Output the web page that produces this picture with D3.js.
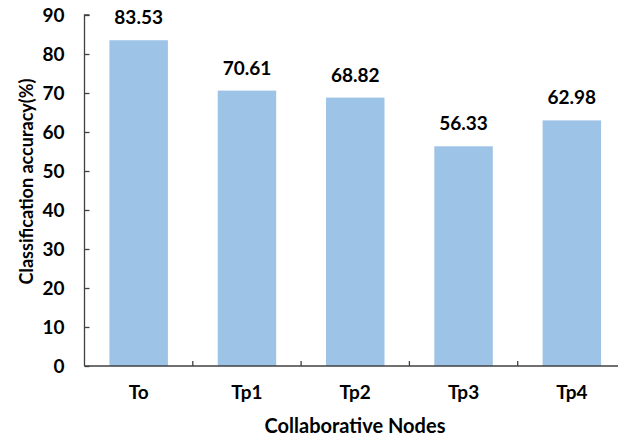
<!DOCTYPE html>
<html>
<head>
<meta charset="utf-8">
<script src="https://cdn.jsdelivr.net/npm/d3@7"></script>
<style>
  html, body { margin: 0; padding: 0; background: #fff; }
  svg { display: block; }
  text { font-family: Lato, "Open Sans", sans-serif; font-weight: bold; fill: #000; }
</style>
</head>
<body>
<svg id="chart" width="618" height="438"></svg>
<script>
// Classification accuracy per collaborative node
const categories = ["To", "Tp1", "Tp2", "Tp3", "Tp4"];
const accuracy = [83.53, 70.61, 68.82, 56.33, 62.98];
const yTicks = [0, 10, 20, 30, 40, 50, 60, 70, 80, 90];

const svg = d3.select("#chart");
const plotLeft = 84.5, plotBottom = 366, plotTop = 15;
const bandWidth = 108.3;
const fontSize = "19px";

const x = d3.scaleBand()
  .domain(categories)
  .range([plotLeft, plotLeft + bandWidth * categories.length])
  .paddingInner(0.46)
  .paddingOuter(0.23);

const y = d3.scaleLinear().domain([0, 90]).range([plotBottom, plotTop]);

// bars
svg.append("g")
  .selectAll("rect")
  .data(categories)
  .join("rect")
  .attr("x", d => x(d))
  .attr("y", (d, i) => y(accuracy[i]))
  .attr("width", x.bandwidth())
  .attr("height", (d, i) => plotBottom - y(accuracy[i]))
  .attr("fill", "#9dc3e6");

// value labels
svg.append("g")
  .selectAll("text")
  .data(categories)
  .join("text")
  .attr("x", d => x(d) + x.bandwidth() / 2)
  .attr("y", (d, i) => y(accuracy[i]) - 16)
  .attr("text-anchor", "middle")
  .style("font-size", fontSize)
  .text((d, i) => accuracy[i].toFixed(2));

// y axis (ticks point inward)
const yAxis = svg.append("g")
  .attr("transform", `translate(${plotLeft},0)`)
  .call(d3.axisRight(y).tickValues(yTicks).tickSize(5).tickFormat(d3.format("d")));
yAxis.select(".domain").attr("d", `M5,${plotTop}H0V${plotBottom}`).attr("stroke", "#404040").attr("stroke-width", 1.3);
yAxis.selectAll(".tick line").attr("stroke", "#404040").attr("stroke-width", 1.3);
yAxis.selectAll(".tick text")
  .attr("x", -20)
  .attr("dy", "0.36em")
  .attr("text-anchor", "end")
  .style("font-size", fontSize)
  .style("font-family", "Lato, sans-serif");

// x axis: category boundaries ticked upward
const xAxisG = svg.append("g");
xAxisG.append("line")
  .attr("x1", plotLeft).attr("x2", 618)
  .attr("y1", plotBottom).attr("y2", plotBottom)
  .attr("stroke", "#404040").attr("stroke-width", 1.3);
xAxisG.selectAll("line.sep")
  .data(categories.slice(1))
  .join("line")
  .attr("class", "sep")
  .attr("x1", d => x(d) - x.step() * x.paddingInner() / 2)
  .attr("x2", d => x(d) - x.step() * x.paddingInner() / 2)
  .attr("y1", plotBottom).attr("y2", plotBottom - 5)
  .attr("stroke", "#404040").attr("stroke-width", 1.3);
xAxisG.selectAll("text")
  .data(categories)
  .join("text")
  .attr("x", d => x(d) + x.bandwidth() / 2)
  .attr("y", 398.5)
  .attr("text-anchor", "middle")
  .style("font-size", fontSize)
  .text(d => d);

// axis titles
svg.append("text")
  .attr("x", 355).attr("y", 433)
  .attr("text-anchor", "middle")
  .style("font-size", "20px")
  .text("Collaborative Nodes");

svg.append("text")
  .attr("transform", "translate(32.5,181.5) rotate(-90)")
  .attr("text-anchor", "middle")
  .style("font-size", "18px")
  .text("Classification accuracy(%)");
</script>
</body>
</html>
